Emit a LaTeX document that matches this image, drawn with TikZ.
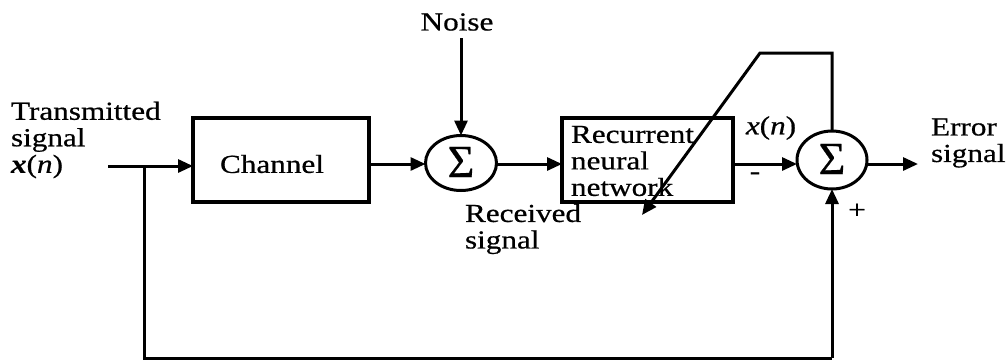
\documentclass[tikz,border=0pt]{standalone}
\usepackage{fontspec}
\setmainfont[FakeStretch=1.2,FakeBold=0.6]{Liberation Serif}
\newfontfamily\sigmafont[FakeBold=0.6]{Liberation Serif}
\usetikzlibrary{arrows.meta,shapes.geometric}
\begin{document}
\begin{tikzpicture}[x=1pt,y=-1pt,
  every node/.style={inner sep=0pt, outer sep=0pt},
  wire/.style={line width=3pt},
  arr/.style={wire,-{Triangle[length=15pt,width=13pt]}},
  blk/.style={draw, line width=3.2pt, rectangle},
  sumnode/.style={draw, line width=3pt, ellipse},
  sigma/.style={font=\sigmafont\fontsize{46}{46}\selectfont},
  lbl/.style={font=\fontsize{26}{26.5}\selectfont, align=left}
]
\useasboundingbox (0,0) rectangle (1008,360);

% blocks
\node[blk, minimum width=176pt, minimum height=84pt] (chan) at (281,160) {};
\node[lbl] (chantxt) at (272,164) {Channel};
\node[blk, minimum width=171pt, minimum height=84pt] (rnn) at (647.5,160) {};
\node[lbl, anchor=west] (rnntxt) at (571,161) {Recurrent\\neural\\network};

% summing junctions
\node[sumnode, minimum width=71pt, minimum height=55pt] (s1) at (461,163) {};
\node[sigma] (s1sym) at (461,162) {Σ};
\node[sumnode, minimum width=70pt, minimum height=58pt] (s2) at (832,160) {};
\node[sigma] (s2sym) at (832,159) {Σ};

% labels
\node[lbl, anchor=west] (tx) at (11,140) {Transmitted\\signal\\\textbf{\itshape x}(\textit{n})};
\node[lbl] (noise) at (457,22) {Noise};
\node[lbl, anchor=west] (recv) at (465,229) {Received\\signal};
\node[lbl] (xn) at (771,128) {\textit{x}(\textit{n})};
\node[lbl] (minus) at (755,176) {-};
\node[lbl] (plus) at (857,211) {+};
\node[lbl, anchor=west] (err) at (931,143) {Error\\signal};

% connection points
\coordinate (in) at (108,166);
\coordinate (split) at (144,166);
\coordinate (bot) at (144,358);
\coordinate (out) at (918,164);
\coordinate (top) at (760,53);
\coordinate (tip) at (642,215);

% signal path
\draw[arr] (in) -- (in -| chan.west);
\draw[arr] (chan.east |- 0,164) -- (s1.west |- 0,164);
\draw[arr] (s1.north |- 0,38) -- (s1.north);
\draw[arr] (s1.east |- 0,164) -- (rnn.west |- 0,164);
\draw[arr] (rnn.east |- 0,164) -- (s2.west |- 0,164);
\draw[arr] (s2.east |- 0,164) -- (out);

% feedback to error junction
\draw[wire] (split) -- (bot) -- (bot -| s2.south);
\draw[arr] (bot -| s2.south) -- (s2.south);

% adaptation path
\draw[arr] (s2.north) -- (s2.north |- top) -- (top) -- (tip);
\end{tikzpicture}
\end{document}
